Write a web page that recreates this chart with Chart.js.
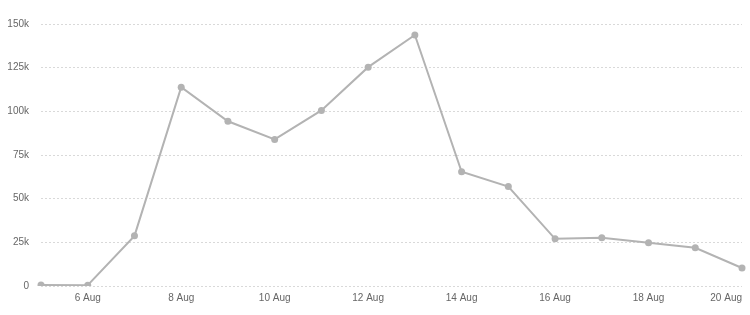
<!DOCTYPE html>
<html>
<head>
<meta charset="utf-8">
<script src="https://cdn.jsdelivr.net/npm/chart.js@4"></script>
<style>
  html, body { margin: 0; padding: 0; background: #fff; }
</style>
</head>
<body>
<canvas id="trendChart" width="750" height="315"></canvas>
<script>
// daily values, 5 Aug - 20 Aug
const days = ['5 Aug', '6 Aug', '7 Aug', '8 Aug', '9 Aug', '10 Aug', '11 Aug', '12 Aug',
  '13 Aug', '14 Aug', '15 Aug', '16 Aug', '17 Aug', '18 Aug', '19 Aug', '20 Aug'];
const counts = [600, 500, 28700, 113800, 94300, 83900, 100500, 125300,
  143700, 65400, 56900, 27000, 27600, 24700, 21900, 10300];
const yTicks = [0, 25000, 50000, 75000, 100000, 125000, 150000];

Chart.defaults.font.family = 'Arial, "Liberation Sans", sans-serif';
Chart.defaults.font.size = 10;
Chart.defaults.color = '#666';

const ctx = document.getElementById('trendChart').getContext('2d');
new Chart(ctx, {
  type: 'line',
  data: {
    labels: days,
    datasets: [{
      data: counts,
      borderColor: '#b3b3b3',
      backgroundColor: '#b3b3b3',
      borderWidth: 2,
      pointRadius: 3.5,
      pointBorderWidth: 0,
      tension: 0
    }]
  },
  options: {
    responsive: false,
    animation: false,
    layout: { padding: { left: 8, right: 8, top: 24, bottom: 5 } },
    plugins: { legend: { display: false }, tooltip: { enabled: false } },
    scales: {
      x: {
        grid: { display: false, drawTicks: false },
        border: { display: false },
        ticks: {
          autoSkip: false,
          maxRotation: 0,
          padding: 6,
          align: 'inner',
          callback: (v, i) => (i % 2 === 1 ? days[i] : '')
        }
      },
      y: {
        min: 0,
        max: 150000,
        afterBuildTicks: (s) => { s.ticks = yTicks.map(v => ({ value: v })); },
        afterFit: (s) => { s.width = 33; },
        grid: { color: '#d9d9d9', drawTicks: false },
        border: { display: false, dash: [2, 2] },
        ticks: {
          padding: 12,
          callback: (v) => (v === 0 ? '0' : (v / 1000) + 'k')
        }
      }
    }
  }
});
</script>
</body>
</html>
